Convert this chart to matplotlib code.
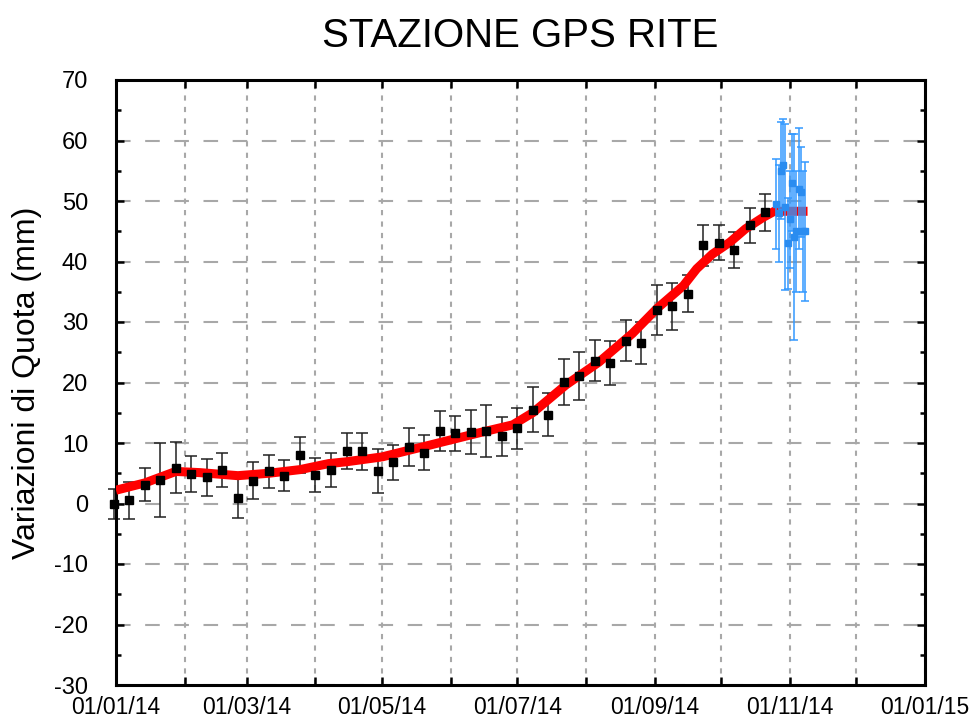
import numpy as np
import pandas as pd
import matplotlib
matplotlib.use("Agg")
import matplotlib.pyplot as plt
import matplotlib.dates as mdates
from matplotlib.ticker import MultipleLocator

plt.rcParams['font.family'] = ['Liberation Sans', 'DejaVu Sans']
plt.rcParams['axes.unicode_minus'] = False

# ---------------- data ----------------
title = "STAZIONE GPS RITE"
ylabel = "Variazioni di Quota (mm)"

# weekly solutions (black)
weekly_start = "2013-12-31"
weekly_values = [-0.1, 0.5, 3.1, 3.95, 5.9, 4.9, 4.3, 5.5, 0.9, 3.8, 5.3, 4.6, 8.0, 4.7, 5.5,
                 8.7, 8.6, 5.4, 6.8, 9.3, 8.4, 12.0, 11.6, 11.8, 12.0, 11.1, 12.4, 15.5, 14.7,
                 20.1, 21.1, 23.6, 23.2, 26.9, 26.5, 32.0, 32.6, 34.7, 42.7, 43.1, 41.9, 46.0, 48.1]
weekly_errors = [2.5, 3.05, 2.7, 6.1, 4.2, 3.0, 3.1, 2.8, 3.3, 3.0, 2.7, 2.6, 3.0, 2.8, 2.8,
                 3.0, 3.0, 3.6, 2.9, 3.1, 2.9, 3.35, 2.9, 3.65, 4.25, 3.2, 3.4, 3.7, 3.5,
                 3.8, 4.0, 3.4, 3.65, 3.4, 3.5, 4.15, 3.9, 3.0, 3.4, 2.9, 2.9, 2.9, 3.0]

# daily solutions (blue)
daily_start = "2014-10-26"
daily_values = [49.5, 48.0, 55.0, 56.0, 49.0, 43.0, 47.0, 53.0, 44.0, 45.0, 52.0, 51.5, 45.0, 45.0]
daily_errors = [7.5, 8.0, 8.0, 7.5, 13.7, 7.5, 8.0, 8.0, 17.0, 10.0, 10.0, 7.5, 10.0, 11.5]

# trend (red)
trend_dates = ["2014-01-01", "2014-01-14", "2014-01-28", "2014-02-08", "2014-02-25", "2014-03-11",
               "2014-03-25", "2014-04-07", "2014-04-15", "2014-05-01", "2014-05-22", "2014-06-14",
               "2014-06-29", "2014-07-08", "2014-07-23", "2014-08-07", "2014-08-22", "2014-09-02",
               "2014-09-14", "2014-09-20", "2014-09-27", "2014-10-05", "2014-10-12", "2014-10-20",
               "2014-10-25", "2014-11-09"]
trend_values = [2.2, 3.4, 5.3, 5.1, 4.6, 5.0, 5.6, 6.6, 6.9, 7.7, 9.6, 11.7, 13.0, 15.0, 19.6,
                23.4, 28.1, 32.2, 36.0, 38.8, 41.2, 43.2, 45.4, 47.3, 48.3, 48.3]

month_ticks = ["2014-01-01", "2014-02-01", "2014-03-01", "2014-04-01", "2014-05-01", "2014-06-01",
               "2014-07-01", "2014-08-01", "2014-09-01", "2014-10-01", "2014-11-01", "2014-12-01",
               "2015-01-01"]
month_labels = ["01/01/14", "", "01/03/14", "", "01/05/14", "", "01/07/14", "", "01/09/14", "",
                "01/11/14", "", "01/01/15"]
y_ticks = [-30, -20, -10, 0, 10, 20, 30, 40, 50, 60, 70]

# ---------------- plot ----------------
weekly_dates = pd.date_range(weekly_start, periods=len(weekly_values), freq="7D")
daily_dates = pd.date_range(daily_start, periods=len(daily_values), freq="D")
trend_d = pd.to_datetime(trend_dates)
tick_d = pd.to_datetime(month_ticks)

fig = plt.figure(figsize=(9.73, 7.2), dpi=100)
ax = fig.add_axes([116/973, 1-685/720, (925-116)/973, (685-80)/720])

ax.set_xlim(tick_d[0], tick_d[-1])
ax.set_ylim(-30, 70)

# grid
ax.set_xticks(tick_d)
ax.set_xticklabels(month_labels)
ax.set_yticks(y_ticks)
ax.yaxis.set_minor_locator(MultipleLocator(5))
ax.grid(axis='x', color='#a8a8a8', linestyle=(0, (2.5, 3)), linewidth=1.5, zorder=0)
ax.grid(axis='y', color='#a8a8a8', linestyle=(0, (7, 7)), linewidth=1.5, zorder=0)
ax.set_axisbelow(True)

# weekly error bars
ax.errorbar(weekly_dates, weekly_values, yerr=weekly_errors, fmt='none', ecolor='#222222',
            elinewidth=1.1, capsize=4, capthick=1.1, zorder=2, clip_on=False)
# trend
ax.plot(trend_d, trend_values, color='#ff0000', linewidth=6.5, solid_capstyle='butt',
        solid_joinstyle='round', zorder=3)
# weekly markers
ax.plot(weekly_dates, weekly_values, linestyle='none', marker='s', markersize=5.5,
        color='black', zorder=4, clip_on=False)
# daily
ax.errorbar(daily_dates, daily_values, yerr=daily_errors, fmt='s', color='#2a8cf0',
            ecolor='#3399ff', markersize=4.5, elinewidth=1.1, capsize=3, capthick=1.1, zorder=5)

# spines / ticks
for s in ax.spines.values():
    s.set_linewidth(2.2)
    s.set_color('black')
ax.tick_params(axis='both', which='both', direction='in', top=True, right=True, width=1.8)
ax.tick_params(axis='x', which='major', length=6, pad=8, labelsize=16.5)
ax.tick_params(axis='y', which='major', length=6, pad=20, labelsize=17)
ax.tick_params(axis='y', which='minor', length=3.5)

ax.set_title(title, fontsize=29, pad=24)
ax.set_ylabel(ylabel, fontsize=23)
ax.yaxis.set_label_coords(-0.092, 0.5)

fig.savefig("out.png", dpi=100)
